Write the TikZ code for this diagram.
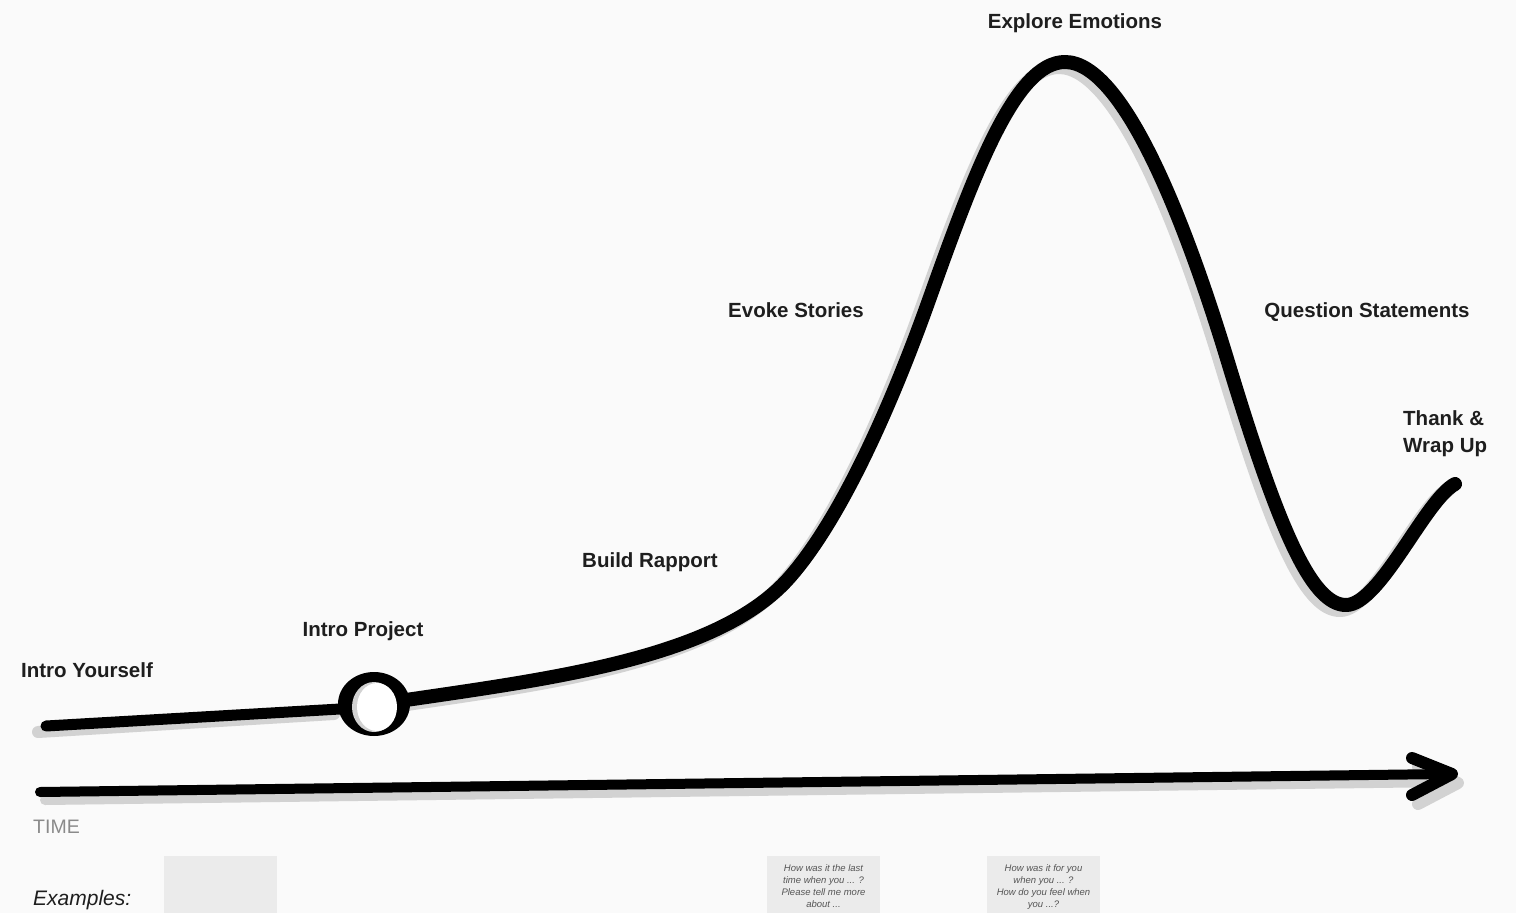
\documentclass[tikz,border=0pt]{standalone}
\usepackage{fontspec}
\setmainfont{Liberation Sans}
\definecolor{bgc}{HTML}{FAFAFA}
\definecolor{shadowc}{HTML}{D2D2D2}
\definecolor{boxc}{HTML}{EBEBEB}
\definecolor{labc}{HTML}{1E1E1E}
\definecolor{timec}{HTML}{8A8A8A}
\definecolor{smallc}{HTML}{555555}
\tikzset{
  stagelabel/.style={font=\fontsize{20.5}{24}\selectfont\bfseries, text=labc, inner sep=0pt, anchor=base},
  stroke/.style={line width=#1, line cap=round, line join=round, black},
  shadowstroke/.style={line width=#1, line cap=round, line join=round, shadowc},
  examplebox/.style={fill=boxc, draw=none},
  exampletext/.style={font=\fontsize{9.5}{12.3}\selectfont\itshape, text=smallc, align=center, inner sep=0pt, anchor=north}
}
\def\curvepath{(406,700) .. controls (556,678) and (719,657) .. (789,578)
  .. controls (839,521.5) and (889,412) .. (929,300)
  .. controls (974,174) and (1015,62) .. (1065,62)
  .. controls (1125,62) and (1188,230) .. (1228,362)
  .. controls (1278,527) and (1311,605) .. (1346,605)
  .. controls (1380,605) and (1425,500) .. (1455,484)}
\begin{document}
\begin{tikzpicture}[x=1pt,y=-1pt]
\useasboundingbox[fill=bgc] (0,0) rectangle (1516,913);

% ---------- curve shadow ----------
\begin{scope}[shift={(-6,5)}]
  \draw[shadowstroke=12pt] (44,727) -- (340,709);
  \draw[shadowstroke=14pt] \curvepath;
\end{scope}

% ---------- curve ----------
\draw[stroke=11pt] (46,726) -- (340,709);
\draw[stroke=14pt] \curvepath;

% ---------- marker circle ----------
\fill[black] (374,704) ellipse [x radius=36, y radius=32];
\fill[shadowc] (374,707) ellipse [x radius=22, y radius=25];
\fill[white] (377,707) ellipse [x radius=20, y radius=24];

% ---------- time axis ----------
\coordinate (axstart) at (40,792);
\coordinate (axend) at (1446,774);
\coordinate (tip) at (1452,774);
\coordinate (armup) at (1412,758);
\coordinate (armdn) at (1412,795);
\draw[shadowstroke=10pt] ([shift={(5,8)}]axstart) -- ([shift={(5,8)}]axend);
\draw[shadowstroke=12pt] ([shift={(6,9)}]armup) -- ([shift={(6,9)}]tip) -- ([shift={(6,9)}]armdn);
\draw[stroke=10pt] (axstart) -- (axend);
\draw[stroke=12pt] (armup) -- (tip) -- (armdn);

% ---------- stage labels ----------
\node[stagelabel] (l1) at (87,677) {Intro Yourself};
\node[stagelabel] (l2) at (363,636) {Intro Project};
\node[stagelabel] (l3) at (650,567) {Build Rapport};
\node[stagelabel] (l4) at (796,317) {Evoke Stories};
\node[stagelabel] (l5) at (1075,28) {Explore Emotions};
\node[stagelabel] (l6) at (1367,317) {Question Statements};
\node[stagelabel, anchor=base west] (l7a) at (1403,425) {Thank \&};
\node[stagelabel, anchor=base west] (l7b) at (1403,452) {Wrap Up};

% ---------- bottom ----------
\node[font=\fontsize{19.5}{22}\selectfont, text=timec, inner sep=0pt, anchor=base west] (time) at (33,833) {TIME};
\node[font=\fontsize{21}{24}\selectfont\itshape, text=labc, inner sep=0pt, anchor=base west] (ex) at (33,905) {Examples:};

\fill[examplebox] (164,856) rectangle (277,913);
\fill[examplebox] (767,856) rectangle (880,913);
\fill[examplebox] (987,856) rectangle (1100,913);
\node[exampletext] (ex1) at (823.5,864) {How was it the last\\time when you ... ?\\Please tell me more\\about ...};
\node[exampletext] (ex2) at (1043.5,864) {How was it for you\\when you ... ?\\How do you feel when\\you ...?};
\end{tikzpicture}
\end{document}
